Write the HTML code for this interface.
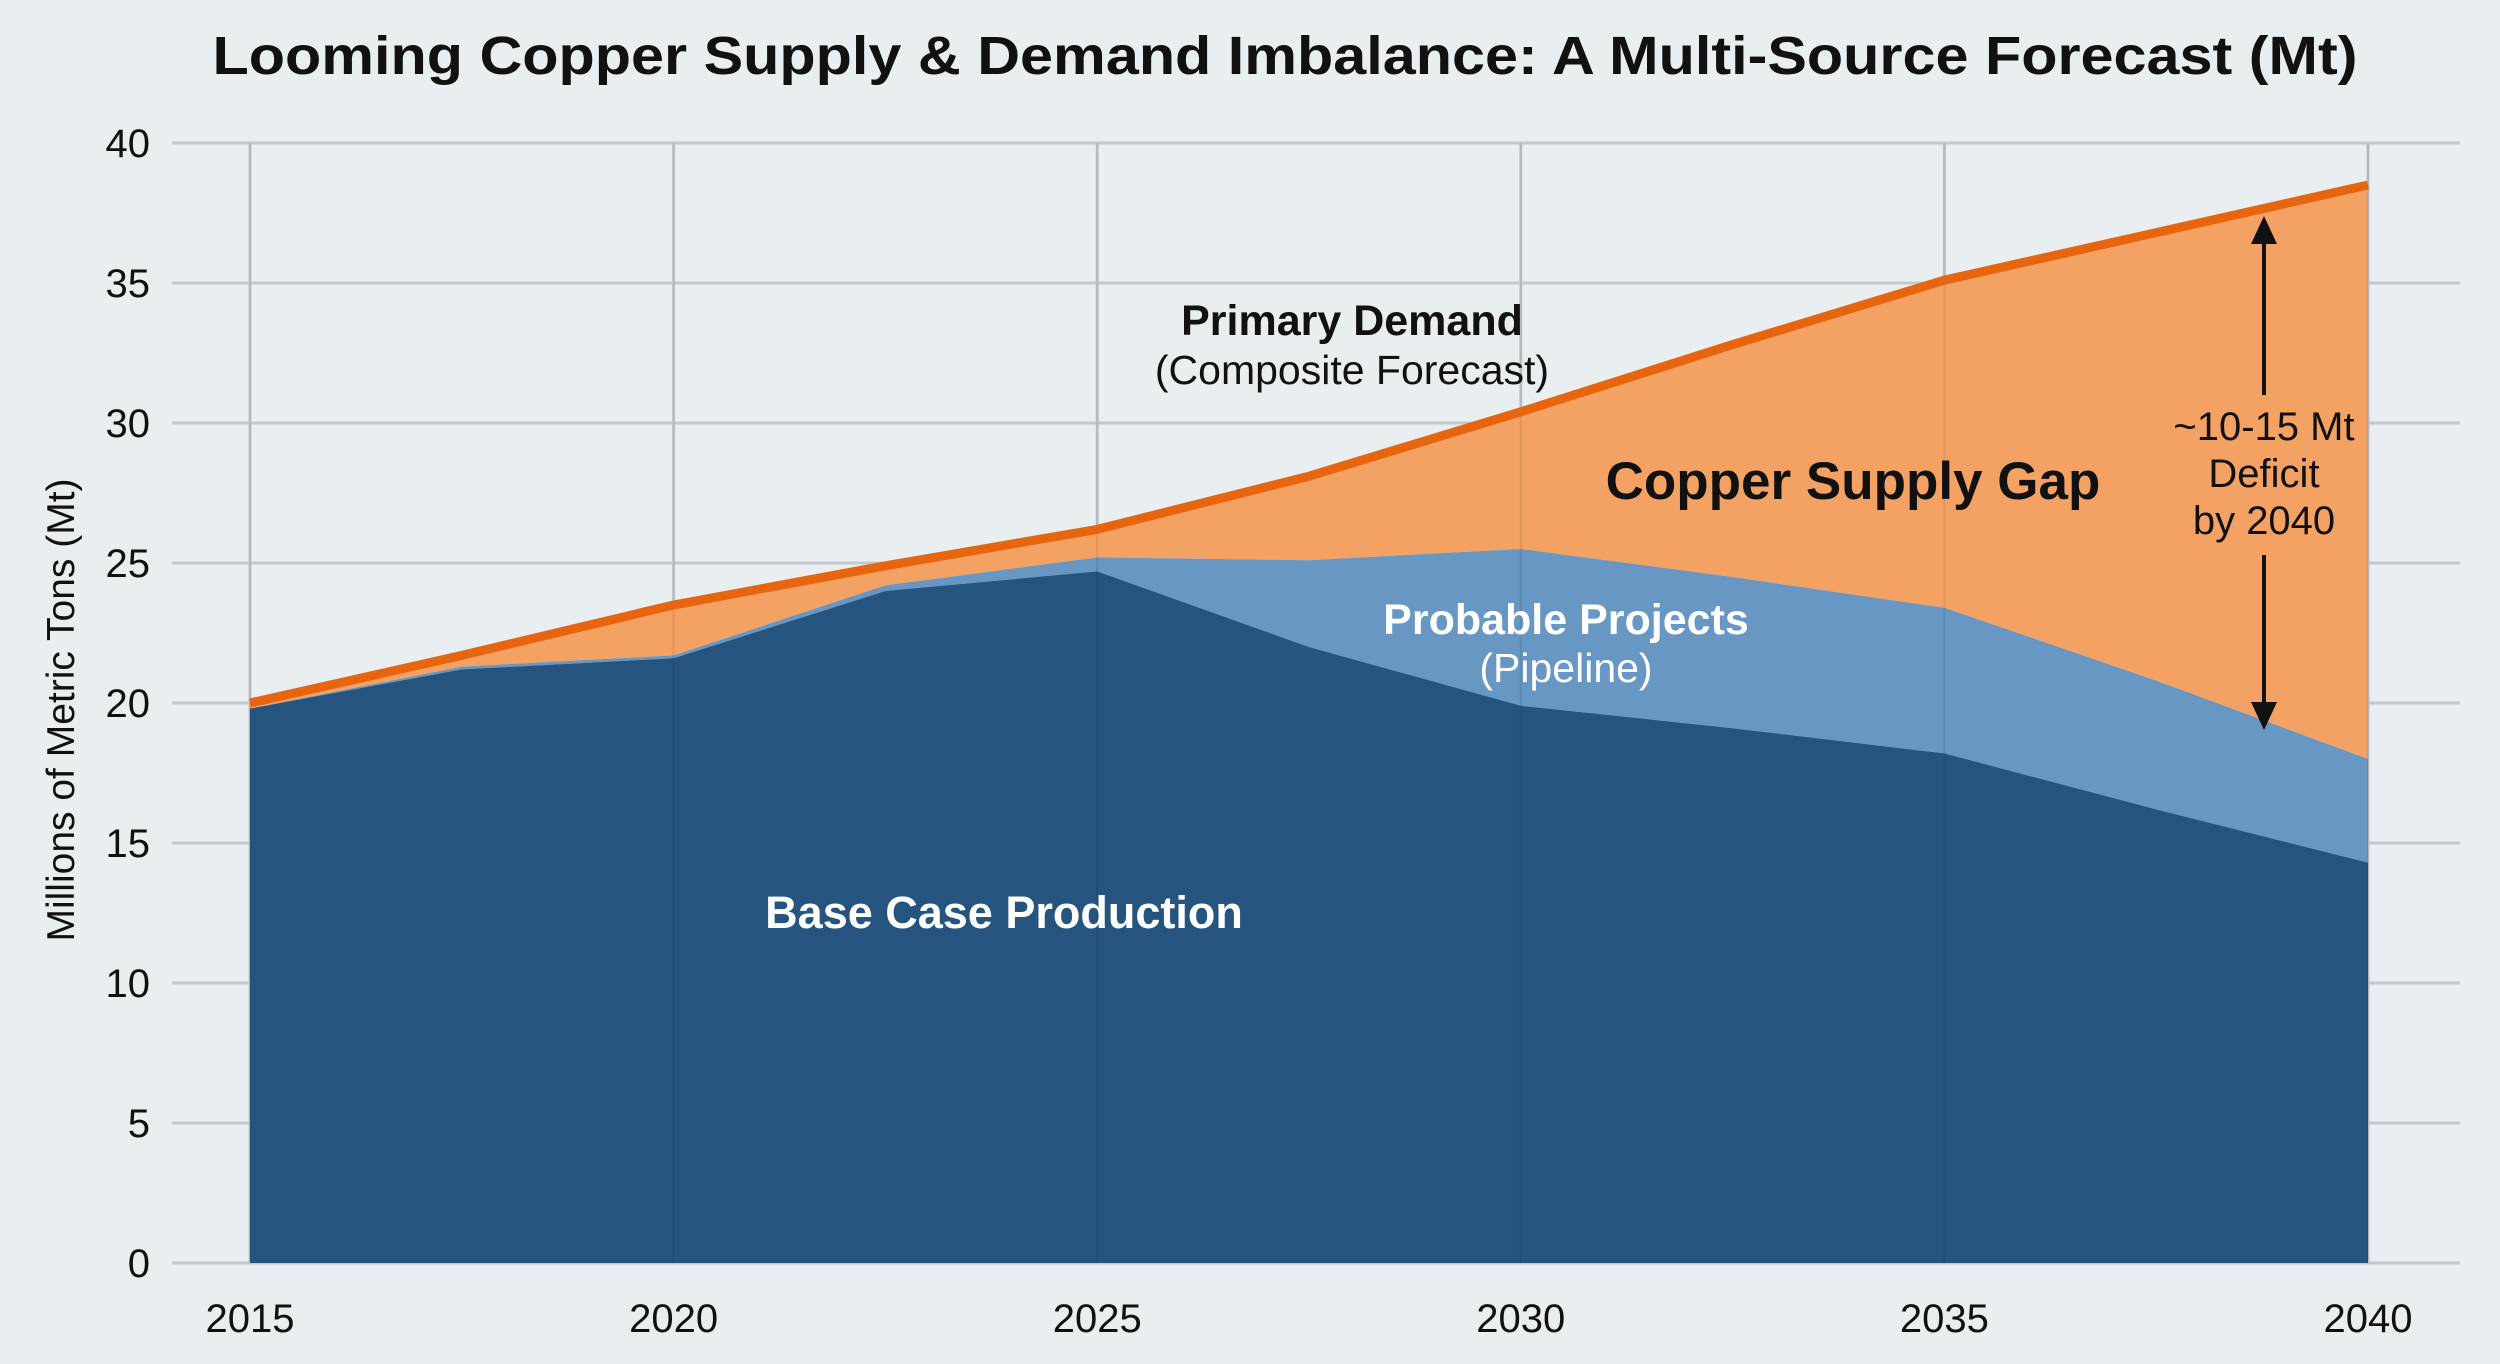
<!DOCTYPE html>
<html><head><meta charset="utf-8"><style>
html,body{margin:0;padding:0;background:#e9eef1;}
svg{display:block;font-family:"Liberation Sans",sans-serif;}
</style></head><body>
<svg id="chart" width="2500" height="1364" viewBox="0 0 2500 1364">
<rect width="2500" height="1364" fill="#e9eef1"/>
<text x="1285" y="74" text-anchor="middle" font-size="54" font-weight="bold" fill="#111" textLength="2145" lengthAdjust="spacingAndGlyphs">Looming Copper Supply &amp; Demand Imbalance: A Multi-Source Forecast (Mt)</text>
<g id="grid"></g>
<g id="areas"></g>
<g id="axes"></g>
<text transform="translate(74,710) rotate(-90)" text-anchor="middle" font-size="39" fill="#111">Millions of Metric Tons (Mt)</text>
<text x="1352" y="335" text-anchor="middle" font-size="43" font-weight="bold" fill="#111">Primary Demand</text>
<text x="1352" y="384" text-anchor="middle" font-size="41" fill="#111">(Composite Forecast)</text>
<text x="1853" y="499" text-anchor="middle" font-size="53" font-weight="bold" fill="#111">Copper Supply Gap</text>
<text x="1566" y="634" text-anchor="middle" font-size="43" font-weight="bold" fill="#fff">Probable Projects</text>
<text x="1566" y="682" text-anchor="middle" font-size="41" fill="#fff">(Pipeline)</text>
<text x="1004" y="928" text-anchor="middle" font-size="45" font-weight="bold" fill="#fff">Base Case Production</text>
<g>
<line x1="2264" y1="228" x2="2264" y2="395" stroke="#111" stroke-width="4"/>
<line x1="2264" y1="555" x2="2264" y2="718" stroke="#111" stroke-width="4"/>
<polygon points="2264,216 2251,244 2277,244" fill="#111"/>
<polygon points="2264,730 2251,702 2277,702" fill="#111"/>
</g>
<text x="2264" y="440" text-anchor="middle" font-size="40" fill="#111">~10-15 Mt</text>
<text x="2264" y="487" text-anchor="middle" font-size="40" fill="#111">Deficit</text>
<text x="2264" y="534" text-anchor="middle" font-size="40" fill="#111">by 2040</text>
</svg>
<script>
const years=[2015,2017.5,2020,2022.5,2025,2027.5,2030,2032.5,2035,2037.5,2040];
const demand=[20,21.7,23.5,24.9,26.2,28.1,30.4,32.8,35.1,36.8,38.5];
const baseCase=[19.8,21.2,21.6,24.0,24.7,22.0,19.9,19.1,18.2,16.2,14.3];
const totalSupply=[19.8,21.3,21.7,24.2,25.2,25.1,25.5,24.5,23.4,20.8,18.0];
const xTicks=[2015,2020,2025,2030,2035,2040];
const yTicks=[0,5,10,15,20,25,30,35,40];
const NS="http://www.w3.org/2000/svg";
const X=v=>250+(v-2015)/25*2118;
const Y=v=>1263-v/40*1120;
function mk(tag,attrs,parent){const e=document.createElementNS(NS,tag);for(const k in attrs)e.setAttribute(k,attrs[k]);parent.appendChild(e);return e;}
const grid=document.getElementById('grid'),areas=document.getElementById('areas'),axes=document.getElementById('axes');
yTicks.forEach(t=>{
 const l=mk('line',{x1:172,x2:2460,y1:Y(t),y2:Y(t),stroke:'#c3c8cc','stroke-width':3},grid);
 
 
 const tx=mk('text',{x:150,y:Y(t)+14,'text-anchor':'end','font-size':40,fill:'#111'},axes);
 tx.textContent=t;
 
 
});
xTicks.forEach(t=>{
 const l=mk('line',{x1:X(t),x2:X(t),y1:Y(40),y2:Y(0),stroke:'#c3c8cc','stroke-width':3},grid);
 
 
 const tx=mk('text',{x:X(t),y:1332,'text-anchor':'middle','font-size':40,fill:'#111'},axes);
 tx.textContent=t;
 
 
});
function band(top,bot){let d='M'+years.map((y,i)=>X(y)+','+Y(top[i])).join(' L');for(let i=years.length-1;i>=0;i--)d+=' L'+X(years[i])+','+Y(bot[i]);return d+'Z';}
const zeros=years.map(()=>0);
const gap=mk('path',{d:band(demand,totalSupply),fill:'#f4a263'},areas);


const prob=mk('path',{d:band(totalSupply,baseCase),fill:'#6797c2'},areas);


const base=mk('path',{d:band(baseCase,zeros),fill:'#25557f'},areas);


xTicks.forEach(t=>{const l=mk('line',{x1:X(t),x2:X(t),y1:Y(40),y2:Y(0),stroke:'#000','stroke-opacity':0.08,'stroke-width':2},areas);
 
 });
const dl=mk('polyline',{points:years.map((y,i)=>X(y)+','+Y(demand[i])).join(' '),fill:'none',stroke:'#e8650f','stroke-width':9,'stroke-linejoin':'round'},areas);


</script>
</body></html>
